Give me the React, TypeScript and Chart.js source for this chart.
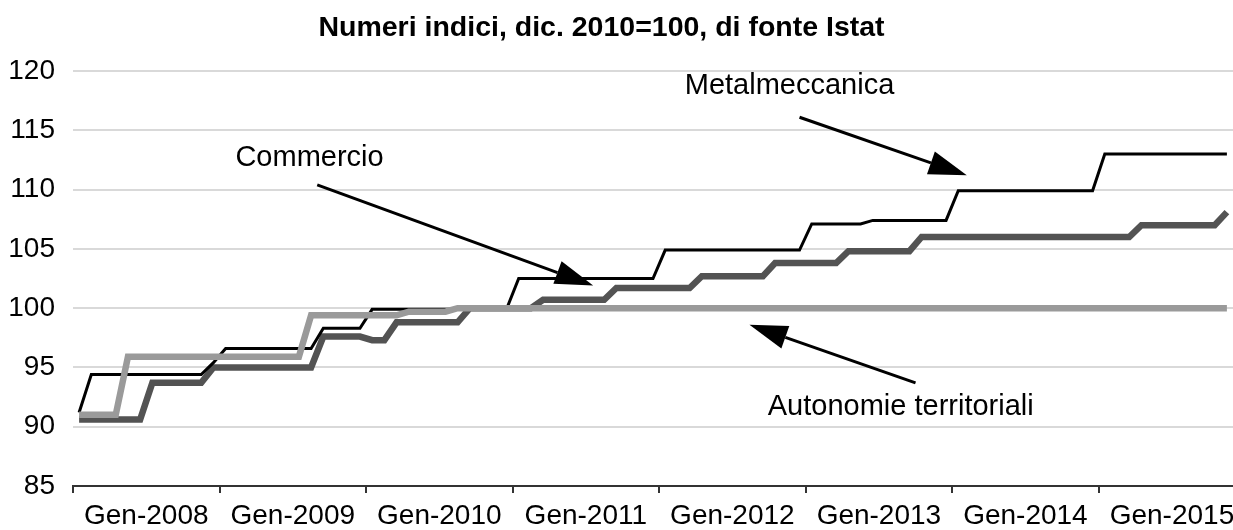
import React, { useEffect, useRef } from 'react';
import { Chart, registerables } from 'chart.js';

Chart.register(...registerables);

// ---- Data ----
const titleText = 'Numeri indici, dic. 2010=100, di fonte Istat';
const yearLabels = ['Gen-2008', 'Gen-2009', 'Gen-2010', 'Gen-2011', 'Gen-2012', 'Gen-2013', 'Gen-2014', 'Gen-2015'];
const seriesNames = ['Metalmeccanica', 'Commercio', 'Autonomie territoriali'];
const yTickValues = [85, 90, 95, 100, 105, 110, 115, 120];

// Monthly values, Jan 2008 - Nov 2015
const metalmeccanica = [
  91.2, 94.4, 94.4, 94.4, 94.4, 94.4, 94.4, 94.4, 94.4, 94.4, 94.4, 95.4,
  96.6, 96.6, 96.6, 96.6, 96.6, 96.6, 96.6, 96.6, 98.3, 98.3, 98.3, 98.3,
  99.9, 99.9, 99.9, 99.9, 99.9, 99.9, 99.9, 99.9, 99.9, 99.9, 99.9, 99.9,
  102.5, 102.5, 102.5, 102.5, 102.5, 102.5, 102.5, 102.5, 102.5, 102.5, 102.5, 102.5,
  104.9, 104.9, 104.9, 104.9, 104.9, 104.9, 104.9, 104.9, 104.9, 104.9, 104.9, 104.9,
  107.1, 107.1, 107.1, 107.1, 107.1, 107.4, 107.4, 107.4, 107.4, 107.4, 107.4, 107.4,
  109.9, 109.9, 109.9, 109.9, 109.9, 109.9, 109.9, 109.9, 109.9, 109.9, 109.9, 109.9,
  113.0, 113.0, 113.0, 113.0, 113.0, 113.0, 113.0, 113.0, 113.0, 113.0, 113.0,
];

const commercio = [
  90.6, 90.6, 90.6, 90.6, 90.6, 90.6, 93.7, 93.7, 93.7, 93.7, 93.7, 95.0,
  95.0, 95.0, 95.0, 95.0, 95.0, 95.0, 95.0, 95.0, 97.6, 97.6, 97.6, 97.6,
  97.3, 97.3, 98.8, 98.8, 98.8, 98.8, 98.8, 98.8, 100.0, 100.0, 100.0, 100.0,
  100.0, 100.0, 100.7, 100.7, 100.7, 100.7, 100.7, 100.7, 101.7, 101.7, 101.7, 101.7,
  101.7, 101.7, 101.7, 102.7, 102.7, 102.7, 102.7, 102.7, 102.7, 103.8, 103.8, 103.8,
  103.8, 103.8, 103.8, 104.8, 104.8, 104.8, 104.8, 104.8, 104.8, 106.0, 106.0, 106.0,
  106.0, 106.0, 106.0, 106.0, 106.0, 106.0, 106.0, 106.0, 106.0, 106.0, 106.0, 106.0,
  106.0, 106.0, 106.0, 107.0, 107.0, 107.0, 107.0, 107.0, 107.0, 107.0, 108.1,
];

const autonomie = [
  91.0, 91.0, 91.0, 91.0, 95.9, 95.9, 95.9, 95.9, 95.9, 95.9, 95.9, 95.9,
  95.9, 95.9, 95.9, 95.9, 95.9, 95.9, 95.9, 99.4, 99.4, 99.4, 99.4, 99.4,
  99.4, 99.4, 99.4, 99.7, 99.7, 99.7, 99.7, 100.0, 100.0, 100.0, 100.0, 100.0,
  100.0, 100.0, 100.0, 100.0, 100.0, 100.0, 100.0, 100.0, 100.0, 100.0, 100.0, 100.0,
  100.0, 100.0, 100.0, 100.0, 100.0, 100.0, 100.0, 100.0, 100.0, 100.0, 100.0, 100.0,
  100.0, 100.0, 100.0, 100.0, 100.0, 100.0, 100.0, 100.0, 100.0, 100.0, 100.0, 100.0,
  100.0, 100.0, 100.0, 100.0, 100.0, 100.0, 100.0, 100.0, 100.0, 100.0, 100.0, 100.0,
  100.0, 100.0, 100.0, 100.0, 100.0, 100.0, 100.0, 100.0, 100.0, 100.0, 100.0,
];

const FONT = "'Liberation Sans', Arial, Helvetica, sans-serif";
const MONTHS_PER_YEAR = 12;
const TITLE_RIGHT_INSET = 30;

// annotation placement in data space (month index, index value)
const annotationLayout = [
  { text: seriesNames[0], tx: 50.1, ty: 118.7, from: [59.5, 116.1], to: [73.2, 111.2] },
  { text: seriesNames[1], tx: 13.3, ty: 112.7, from: [20.0, 110.4], to: [42.6, 101.9] },
  { text: seriesNames[2], tx: 56.9, ty: 91.7, from: [69.0, 93.7], to: [55.4, 98.6] },
];

const toPoints = (arr: number[]) => arr.map((v, i) => ({ x: i + 0.5, y: v }));

const annotationPlugin = {
  id: 'arrowAnnotations',
  afterLayout(chart: any) {
    const t = chart.titleBlock;
    if (t) {
      t.right = t.right - TITLE_RIGHT_INSET;
      t.width = t.right - t.left;
    }
  },
  afterDatasetsDraw(chart: any) {
    const { ctx } = chart;
    const xs = chart.scales.x;
    const ys = chart.scales.y;
    ctx.save();
    ctx.font = `29px ${FONT}`;
    ctx.fillStyle = '#000';
    ctx.strokeStyle = '#000';
    ctx.textAlign = 'left';
    ctx.textBaseline = 'middle';
    for (const a of annotationLayout) {
      ctx.fillText(a.text, xs.getPixelForValue(a.tx), ys.getPixelForValue(a.ty));
      const x1 = xs.getPixelForValue(a.from[0]);
      const y1 = ys.getPixelForValue(a.from[1]);
      const x2 = xs.getPixelForValue(a.to[0]);
      const y2 = ys.getPixelForValue(a.to[1]);
      const ang = Math.atan2(y2 - y1, x2 - x1);
      const headLen = 38;
      const headHalf = 12;
      const bx = x2 - headLen * Math.cos(ang);
      const by = y2 - headLen * Math.sin(ang);
      ctx.lineWidth = 3;
      ctx.beginPath();
      ctx.moveTo(x1, y1);
      ctx.lineTo(bx, by);
      ctx.stroke();
      ctx.beginPath();
      ctx.moveTo(x2, y2);
      ctx.lineTo(bx + headHalf * Math.sin(ang), by - headHalf * Math.cos(ang));
      ctx.lineTo(bx - headHalf * Math.sin(ang), by + headHalf * Math.cos(ang));
      ctx.closePath();
      ctx.fill();
    }
    ctx.restore();
  },
};

export default function App() {
  const canvasRef = useRef<HTMLCanvasElement | null>(null);

  useEffect(() => {
    if (!canvasRef.current) return;
    const yearStarts = yearLabels.map((_, i) => i * MONTHS_PER_YEAR);
    const yearMids = yearLabels.map((_, i) => i * MONTHS_PER_YEAR + MONTHS_PER_YEAR / 2);
    const nMonths = metalmeccanica.length;

    const chart = new Chart(canvasRef.current, {
      type: 'line',
      data: {
        datasets: [
          {
            label: seriesNames[2],
            data: toPoints(autonomie),
            borderColor: '#9a9a9a',
            borderWidth: 6.5,
            pointRadius: 0,
            tension: 0,
            fill: false,
            xAxisID: 'x',
            yAxisID: 'y',
          },
          {
            label: seriesNames[0],
            data: toPoints(metalmeccanica),
            borderColor: '#000000',
            borderWidth: 3,
            pointRadius: 0,
            tension: 0,
            fill: false,
            xAxisID: 'x',
            yAxisID: 'y',
          },
          {
            label: seriesNames[1],
            data: toPoints(commercio),
            borderColor: '#535353',
            borderWidth: 6.5,
            pointRadius: 0,
            tension: 0,
            fill: false,
            xAxisID: 'x',
            yAxisID: 'y',
          },
        ],
      },
      options: {
        responsive: false,
        animation: false,
        events: [],
        layout: { padding: { left: 0, right: 0, top: 0, bottom: 0 } },
        plugins: {
          legend: { display: false },
          tooltip: { enabled: false },
          title: {
            display: true,
            text: titleText,
            color: '#000',
            font: { family: FONT, size: 28.5, weight: 'bold' },
            padding: { top: 11, bottom: 25.8 },
          },
        },
        scales: {
          x: {
            type: 'linear',
            position: 'bottom',
            weight: 0,
            min: 0,
            max: nMonths,
            afterBuildTicks: (s: any) => {
              s.ticks = yearStarts.map((v) => ({ value: v }));
            },
            afterFit: (s: any) => {
              s.height = 7;
              s.paddingLeft = 0;
              s.paddingRight = 0;
            },
            ticks: { display: false },
            grid: {
              display: true,
              drawOnChartArea: false,
              drawTicks: true,
              tickLength: 7,
              color: '#333',
              lineWidth: 2,
            },
            border: { display: true, color: '#333', width: 2 },
          },
          xl: {
            type: 'linear',
            position: 'bottom',
            weight: 1,
            min: 0,
            max: nMonths,
            afterBuildTicks: (s: any) => {
              s.ticks = yearMids.map((v) => ({ value: v }));
            },
            afterFit: (s: any) => {
              s.height = 37;
              s.paddingLeft = 0;
              s.paddingRight = 0;
            },
            ticks: {
              autoSkip: false,
              maxRotation: 0,
              padding: 6,
              color: '#000',
              font: { family: FONT, size: 28 },
              callback: (_v: any, idx: number) => yearLabels[idx],
            },
            grid: { display: false, drawTicks: false },
            border: { display: false },
          },
          y: {
            type: 'linear',
            min: yTickValues[0],
            max: yTickValues[yTickValues.length - 1],
            afterBuildTicks: (s: any) => {
              s.ticks = yTickValues.map((v) => ({ value: v }));
            },
            afterFit: (s: any) => {
              s.width = 73;
            },
            ticks: {
              padding: 18,
              color: '#000',
              font: { family: FONT, size: 28 },
            },
            grid: { color: '#d9d9d9', lineWidth: 2, drawTicks: false },
            border: { display: false },
          },
        },
      },
      plugins: [annotationPlugin],
    } as any);

    return () => chart.destroy();
  }, []);

  return (
    <div style={{ position: 'absolute', left: 0, top: 0, width: 1233, height: 530, background: '#fff' }}>
      <canvas ref={canvasRef} width={1233} height={530} style={{ display: 'block' }} />
    </div>
  );
}
